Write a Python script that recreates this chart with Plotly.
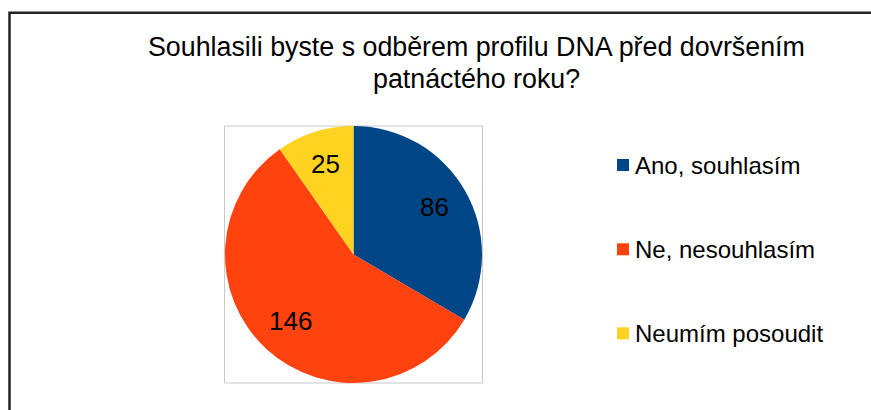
import math
import plotly.graph_objects as go

W, H = 871, 410

labels = ["Ano, souhlasím", "Ne, nesouhlasím", "Neumím posoudit"]
values = [86, 146, 25]
colors = ["#004586", "#FF420E", "#FFD320"]
title_lines = ["Souhlasili byste s odběrem profilu DNA před dovršením", "patnáctého roku?"]

FONT = "Liberation Sans, Arial, sans-serif"

def px(x):
    return x / W

def py(y):
    return 1 - y / H

# pie placement (pixels)
PX0, PX1, PY0, PY1 = 224.5, 482.5, 126, 383
CX, CY = (PX0 + PX1) / 2, (PY0 + PY1) / 2
R = min(PX1 - PX0, PY1 - PY0) / 2

fig = go.Figure()
fig.add_trace(go.Pie(
    labels=labels,
    values=values,
    marker=dict(colors=colors, line=dict(width=0)),
    sort=False,
    direction="clockwise",
    rotation=0,
    textinfo="none",
    domain=dict(x=[px(PX0), px(PX1)], y=[py(PY1), py(PY0)]),
    showlegend=False,
    hoverinfo="label+value",
))

shapes = [
    # outer border
    dict(type="rect", xref="paper", yref="paper",
         x0=px(9.5), x1=px(875), y0=py(420), y1=py(12.8),
         line=dict(color="#222222", width=2.5), fillcolor="rgba(0,0,0,0)", layer="above"),
    # plot area frame
    dict(type="rect", xref="paper", yref="paper",
         x0=px(PX0), x1=px(PX1), y0=py(PY1), y1=py(PY0),
         line=dict(color="#c8c8c8", width=1), fillcolor="rgba(0,0,0,0)", layer="below"),
]

annotations = []
# title lines
for i, t in enumerate(title_lines):
    annotations.append(dict(
        text=t, xref="paper", yref="paper", x=px(476), y=py(47 + 32.5 * i),
        xanchor="center", yanchor="middle", showarrow=False,
        font=dict(family=FONT, size=26.8, color="black"),
    ))

# slice value labels along each slice bisector
total = sum(values)
cum = 0
for v in values:
    theta = 2 * math.pi * (cum + v / 2) / total
    cum += v
    lx = CX + 0.725 * R * math.sin(theta)
    ly = CY - 0.725 * R * math.cos(theta) - 1.5
    annotations.append(dict(
        text=str(v), xref="paper", yref="paper", x=px(lx), y=py(ly),
        xanchor="center", yanchor="middle", showarrow=False,
        font=dict(family=FONT, size=26, color="black"),
    ))

# legend
leg_y = [165, 249.3, 333.3]
for i, (lab, col) in enumerate(zip(labels, colors)):
    yc = leg_y[i]
    shapes.append(dict(type="rect", xref="paper", yref="paper",
                       x0=px(617), x1=px(629), y0=py(yc + 6), y1=py(yc - 6),
                       line=dict(width=0), fillcolor=col))
    annotations.append(dict(
        text=lab, xref="paper", yref="paper", x=px(633), y=py(yc),
        xanchor="left", yanchor="middle", showarrow=False,
        font=dict(family=FONT, size=24, color="black"),
    ))

fig.update_layout(
    width=W, height=H,
    margin=dict(l=0, r=0, t=0, b=0),
    paper_bgcolor="white",
    plot_bgcolor="white",
    shapes=shapes,
    annotations=annotations,
    showlegend=False,
)

fig.write_html("out.html", config={"displayModeBar": False},
               post_script="document.body.style.margin='0';document.body.style.overflow='hidden';")
